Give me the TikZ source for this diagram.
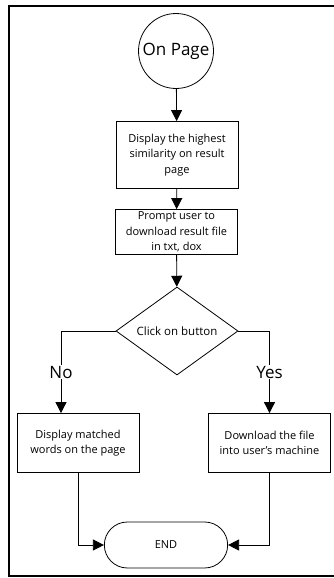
\documentclass[tikz,border=0pt]{standalone}
\usepackage{fontspec}
\setmainfont{Open Sans}
\usetikzlibrary{arrows.meta, shapes.geometric, shapes.misc}

\begin{document}
\begin{tikzpicture}[
  x=1pt, y=-1pt,
  font=\fontsize{11}{15.6}\selectfont,
  line width=0.8pt,
  process/.style={rectangle, draw, minimum width=122pt, align=center, inner xsep=2pt, inner ysep=1pt},
  decision/.style={diamond, draw, aspect=1.39, minimum width=122pt, minimum height=88pt, inner sep=0pt,
    font=\fontsize{11.5}{14}\selectfont},
  terminal/.style={rounded rectangle, draw, minimum width=130pt, minimum height=46pt},
  startnode/.style={circle, draw, minimum size=75pt, inner sep=0pt, font=\fontsize{17}{20}\selectfont},
  flow/.style={-{Triangle[length=11pt,width=11pt]}},
  branch/.style={fill=white, inner sep=1pt, font=\fontsize{17}{20}\selectfont}
]
  \useasboundingbox (0,0) rectangle (333,578);
  % frame, right side cut off
  \draw[line width=1.8pt] (334,6) -- (9,6) -- (9,576) -- (334,576);

  \node[startnode] (start) at (176,51) {On Page};
  \node[process, minimum height=67pt] (disp) at (177,155)
    {Display the highest\\similarity on result\\page};
  \node[process, minimum height=45pt] (prompt) at (176.5,232)
    {Prompt user to\\download result file\\in txt, dox};
  \node[decision] (click) at (177,331) {Click on button};
  \node[process, minimum height=59pt] (match) at (78,443)
    {Display matched\\words on the page};
  \node[process, minimum height=59pt] (save) at (269.5,443)
    {Download the file\\into user's machine};
  \node[terminal] (end) at (166,545) {END};

  \draw[flow] (start) -- (disp);
  \draw[flow] (disp) -- (prompt);
  \draw[flow] (prompt) -- (click);
  \draw[flow] (click.west) -| node[branch, pos=0.75] {No} ([xshift=-17pt]match.north);
  \draw[flow] (click.east) -| node[branch, pos=0.75] {Yes} (save.north);
  \draw[flow] (match.south) |- (end.west);
  \draw[flow] (save.south) |- (end.east);
\end{tikzpicture}
\end{document}
